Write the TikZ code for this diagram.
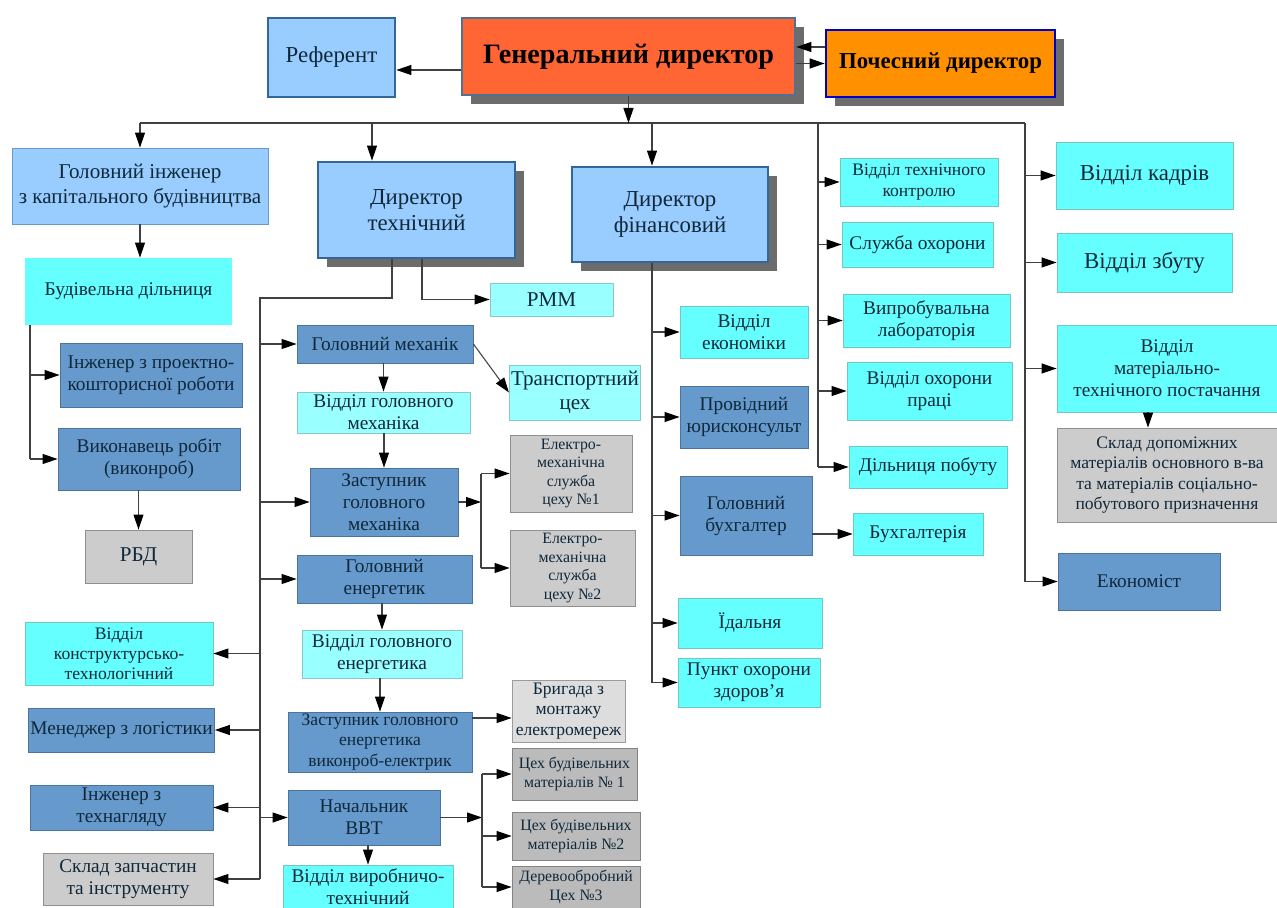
\documentclass[tikz,border=0pt]{standalone}
\usepackage{fontspec}
\setmainfont{Liberation Serif}
\usetikzlibrary{arrows.meta,shadows}

\definecolor{genor}{HTML}{FF6633}
\definecolor{pochor}{HTML}{FF9000}
\definecolor{lblue}{HTML}{99CCFF}
\definecolor{dblue}{HTML}{6699CC}
\definecolor{cyanb}{HTML}{66FFFF}
\definecolor{lcyan}{HTML}{99FFFF}
\definecolor{grayb}{HTML}{CCCCCC}
\definecolor{lgrayb}{HTML}{DDDDDD}
\definecolor{dgrayb}{HTML}{BBBBBB}
\definecolor{txt}{HTML}{10283A}
\definecolor{linec}{HTML}{404040}
\definecolor{edgeb}{HTML}{336699}

\tikzset{
	base/.style={rectangle, inner sep=1pt, align=center, text=txt, line width=0.5pt,
		font=\fontsize{11}{12.5}\selectfont},
	f9/.style={font=\fontsize{9}{10.5}\selectfont},
	f10/.style={font=\fontsize{10}{11.5}\selectfont},
	f12/.style={font=\fontsize{12}{14}\selectfont},
	f13/.style={font=\fontsize{13}{15}\selectfont},
	shade/.style={drop shadow={shadow xshift=0.18cm, shadow yshift=-0.18cm, fill=gray!85!black, opacity=1}},
	cyanbox/.style={base, fill=cyanb, draw=cyanb!55!gray},
	lcyanbox/.style={base, fill=lcyan, draw=lcyan!55!gray},
	dbox/.style={base, fill=dblue, draw=dblue!75!black},
	graybox/.style={base, fill=grayb, draw=grayb!70!black},
	lgraybox/.style={base, fill=lgrayb, draw=lgrayb!70!black},
	dgraybox/.style={base, fill=dgrayb, draw=dgrayb!70!black},
	lbox/.style={base, fill=lblue, draw=dblue},
	refbox/.style={base, f13, fill=lblue, draw=edgeb, line width=1.6pt},
	dirbox/.style={refbox, shade},
	genbox/.style={base, fill=genor, draw=edgeb!60!gray, line width=1.6pt, shade, text=black,
		font=\fontsize{16}{19}\selectfont\bfseries},
	pochbox/.style={base, fill=pochor, draw=blue!80!black, line width=1.6pt, shade, text=black,
		font=\fontsize{13}{15}\selectfont\bfseries},
	arr/.style={draw=linec, line width=0.6pt, -{Triangle[length=0.3cm,width=0.2cm,color=black]}},
	ln/.style={draw=linec, line width=0.6pt}
}

\begin{document}
\begin{tikzpicture}[x=0.02cm, y=-0.02cm]
	\useasboundingbox (0,0) rectangle (1277,908);

	% top
	\node[refbox, minimum width=2.54cm, minimum height=1.58cm] (ref) at (331.5,57.5) {Референт};
	\node[genbox, minimum width=6.66cm, minimum height=1.54cm] (gen) at (628.5,56.5) {Генеральний директор};
	\node[pochbox, minimum width=4.58cm, minimum height=1.34cm] (poch) at (940.5,63.5) {Почесний директор};

	% left column
	\node[lbox, f12, minimum width=5.12cm, minimum height=1.52cm] (gi) at (140,186) {Головний інженер\\з капітального будівництва};
	\node[cyanbox, draw=none, minimum width=4.14cm, minimum height=1.34cm] (bd) at (128.5,291.5) {Будівельна дільниця};
	\node[dbox, minimum width=3.64cm, minimum height=1.28cm] (ipk) at (151,375) {Інженер з проектно-\\кошторисної роботи};
	\node[dbox, minimum width=3.64cm, minimum height=1.24cm] (vr) at (149,459) {Виконавець робіт\\(виконроб)};
	\node[graybox, f12, minimum width=2.14cm, minimum height=1.06cm] (rbd) at (138.5,556.5) {РБД};
	\node[cyanbox, f10, minimum width=3.76cm, minimum height=1.26cm] (vkt) at (119,653.5) {Відділ\\конструктурсько-\\технологічний};
	\node[dbox, minimum width=3.66cm, minimum height=0.88cm] (ml) at (121.5,730) {Менеджер з логістики};
	\node[dbox, minimum width=3.66cm, minimum height=0.9cm] (it) at (121.5,807.5) {Інженер з\\технагляду};
	\node[graybox, minimum width=3.4cm, minimum height=1.04cm] (sz) at (128,879) {Склад запчастин\\та інструменту};

	% technical director
	\node[dirbox, minimum width=3.94cm, minimum height=1.92cm] (dt) at (416.5,210) {Директор\\технічний};
	\node[lcyanbox, f12, minimum width=2.46cm, minimum height=0.66cm] (rmm) at (551.5,299.5) {РММ};
	\node[dbox, minimum width=3.52cm, minimum height=0.76cm] (gm) at (385,344) {Головний механік};
	\node[lcyanbox, minimum width=3.46cm, minimum height=0.82cm] (vgm) at (383.5,412.5) {Відділ головного\\механіка};
	\node[lcyanbox, f12, minimum width=2.6cm, minimum height=1.1cm] (tc) at (575,392.5) {Транспортний\\цех};
	\node[dbox, minimum width=2.96cm, minimum height=1.36cm] (zgm) at (384,502) {Заступник\\головного\\механіка};
	\node[graybox, f9, minimum width=2.44cm, minimum height=1.54cm] (ems1) at (571,473.5) {Електро-\\механічна\\служба\\цеху №1};
	\node[graybox, f9, minimum width=2.5cm, minimum height=1.52cm] (ems2) at (572.5,568) {Електро-\\механічна\\служба\\цеху №2};
	\node[dbox, minimum width=3.5cm, minimum height=0.96cm] (ge) at (384.5,579) {Головний\\енергетик};
	\node[lcyanbox, minimum width=3.2cm, minimum height=0.96cm] (vge) at (382,654) {Відділ головного\\енергетика};
	\node[dbox, f10, minimum width=3.68cm, minimum height=1.2cm] (zge) at (380,742) {Заступник головного\\енергетика\\виконроб-електрик};
	\node[lgraybox, f10, minimum width=2.26cm, minimum height=1.24cm] (bme) at (568.5,711) {Бригада з\\монтажу\\електромереж};
	\node[dbox, minimum width=3.04cm, minimum height=1.1cm] (vvt) at (364,817.5) {Начальник\\ВВТ};
	\node[dgraybox, f9, minimum width=2.5cm, minimum height=1.04cm] (cbm1) at (574.5,774) {Цех будівельних\\матеріалів № 1};
	\node[dgraybox, f9, minimum width=2.56cm, minimum height=0.96cm] (cbm2) at (576,836) {Цех будівельних\\матеріалів №2};
	\node[dgraybox, f9, minimum width=2.56cm, minimum height=0.84cm] (dc3) at (576,887) {Деревообробний\\Цех №3};
	\node[cyanbox, minimum width=3.4cm, minimum height=0.86cm] (vvtv) at (368,886.5) {Відділ виробничо-\\технічний};

	% financial director
	\node[dirbox, minimum width=3.92cm, minimum height=1.9cm] (df) at (670,214.5) {Директор\\фінансовий};
	\node[cyanbox, minimum width=2.56cm, minimum height=1.04cm] (ve) at (744,332) {Відділ\\економіки};
	\node[dbox, minimum width=2.56cm, minimum height=1.24cm] (pju) at (744,417) {Провідний\\юрисконсульт};
	\node[dbox, minimum width=2.64cm, minimum height=1.58cm] (gb) at (746,515.5) {Головний\\бухгалтер};
	\node[cyanbox, minimum width=2.6cm, minimum height=0.84cm] (buh) at (918,534) {Бухгалтерія};
	\node[cyanbox, minimum width=2.88cm, minimum height=1cm] (id) at (750,623) {Їдальня};
	\node[cyanbox, minimum width=2.84cm, minimum height=0.98cm] (poz) at (749,682.5) {Пункт охорони\\здоров'я};

	% right columns
	\node[cyanbox, f10, minimum width=3.16cm, minimum height=0.96cm] (vtk) at (919,182) {Відділ технічного\\контролю};
	\node[cyanbox, minimum width=3.02cm, minimum height=0.9cm] (so) at (917.5,244.5) {Служба охорони};
	\node[cyanbox, minimum width=3.34cm, minimum height=1.06cm] (vl) at (926.5,320.5) {Випробувальна\\лабораторія};
	\node[cyanbox, minimum width=3.3cm, minimum height=1.16cm] (vop) at (929.5,391) {Відділ охорони\\праці};
	\node[cyanbox, minimum width=3.16cm, minimum height=0.84cm] (dp) at (928,467) {Дільниця побуту};
	\node[cyanbox, f13, minimum width=3.54cm, minimum height=1.34cm] (vk) at (1144.5,175.5) {Відділ кадрів};
	\node[cyanbox, f13, minimum width=3.5cm, minimum height=1.18cm] (vz) at (1144.5,262.5) {Відділ збуту};
	\node[cyanbox, minimum width=4.4cm, minimum height=1.74cm] (mtp) at (1167,368.5) {Відділ\\матеріально-\\технічного постачання};
	\node[graybox, f10, minimum width=4.4cm, minimum height=1.88cm] (sdm) at (1167,475) {Склад допоміжних\\матеріалів основного в-ва\\та матеріалів соціально-\\побутового призначення};
	\node[dbox, minimum width=3.24cm, minimum height=1.14cm] (ek) at (1139,581.5) {Економіст};

	% main bus
	\coordinate (b0) at (140,123);
	\coordinate (b1) at (372,123);
	\coordinate (b2) at (652,123);
	\coordinate (b3) at (818,123);
	\coordinate (b4) at (1025,123);
	\draw[ln] (b0) -- (b4);
	\draw[arr] (gen.south) -- (gen.south |- b0);
	\draw[arr] (b0) -- (gi.north);
	\draw[arr] (b1) -- (b1 |- dt.north);
	\draw[arr] (b2) -- (b2 |- df.north);
	\draw[ln] (b3) -- (b3 |- dp);
	\draw[ln] (b4) -- (b4 |- ek);

	\coordinate (g1) at ([yshift=-0.27cm]gen.west);
	\draw[arr] (g1) -- (g1 -| ref.east);
	\coordinate (p1) at ([yshift=0.33cm]poch.west);
	\draw[arr] (p1) -- (p1 -| gen.east);
	\draw[arr] (poch.west -| gen.east) -- (poch.west);

	% chief engineer
	\coordinate (l1) at (30,459);
	\draw[arr] (gi.south) -- (gi.south |- bd.north);
	\draw[ln] (l1 |- bd.south) -- (l1 |- vr);
	\draw[arr] (l1 |- ipk) -- (ipk.west);
	\draw[arr] (l1 |- vr) -- (vr.west);
	\draw[arr] (rbd.north |- vr.south) -- (rbd.north);

	% technical director
	\coordinate (t1) at (392,298);
	\coordinate (t2) at (422,300);
	\coordinate (lb) at (260,879);
	\draw[ln] (t1 |- dt.south) -- (t1) -| (lb |- sz);
	\draw[arr] (t2 |- dt.south) |- (rmm.west);
	\draw[arr] (lb |- gm) -- (gm.west);
	\draw[arr] (lb |- zgm) -- (zgm.west);
	\draw[arr] (lb |- ge) -- (ge.west);
	\draw[arr] (lb |- vvt) -- (vvt.west);
	\draw[arr] (lb |- vkt) -- (vkt.east);
	\draw[arr] (lb |- ml) -- (ml.east);
	\draw[arr] (lb |- it) -- (it.east);
	\draw[arr] (lb |- sz) -- (sz.east);

	\draw[arr] (vgm.north |- gm.south) -- (vgm.north);
	\draw[arr] (zgm.north |- vgm.south) -- (zgm.north);
	\draw[arr] (gm.east) -- (tc.west);
	\coordinate (f1) at (481,502);
	\draw[arr] (zgm.east) -- (f1);
	\draw[ln] (f1 |- ems1) -- (f1 |- ems2);
	\draw[arr] (f1 |- ems1) -- (ems1.west);
	\draw[arr] (f1 |- ems2) -- (ems2.west);

	\draw[arr] (vge.north |- ge.south) -- (vge.north);
	\draw[arr] (zge.north |- vge.south) -- (zge.north);
	\coordinate (z1) at ([yshift=-0.14cm]bme.west);
	\draw[arr] (z1 -| zge.east) -- (z1);
	\coordinate (f2) at (482,815);
	\draw[arr] (vvt.east) -- (vvt.east -| f2);
	\draw[ln] (f2 |- cbm1) -- (f2 |- dc3);
	\draw[arr] (f2 |- cbm1) -- (cbm1.west);
	\draw[arr] (f2 |- cbm2) -- (cbm2.west);
	\draw[arr] (f2 |- dc3) -- (dc3.west);
	\draw[arr] (vvtv.north |- vvt.south) -- (vvtv.north);

	% financial director
	\coordinate (fb) at (652,683);
	\draw[ln] (fb |- df.south) -- (fb |- poz);
	\draw[arr] (fb |- ve) -- (ve.west);
	\draw[arr] (fb |- pju) -- (pju.west);
	\draw[arr] (fb |- gb) -- (gb.west);
	\draw[arr] (fb |- id) -- (id.west);
	\draw[arr] (fb |- poz) -- (poz.west);
	\draw[arr] (gb.east |- buh) -- (buh.west);

	% right buses
	\draw[arr] (b3 |- vtk) -- (vtk.west);
	\draw[arr] (b3 |- so) -- (so.west);
	\draw[arr] (b3 |- vl) -- (vl.west);
	\draw[arr] (b3 |- vop) -- (vop.west);
	\draw[arr] (b3 |- dp) -- (dp.west);
	\draw[arr] (b4 |- vk) -- (vk.west);
	\draw[arr] (b4 |- vz) -- (vz.west);
	\draw[arr] (b4 |- mtp) -- (mtp.west);
	\draw[arr] (b4 |- ek) -- (ek.west);
	\draw[arr] ([xshift=-0.38cm]mtp.south) -- ([xshift=-0.38cm]sdm.north);
\end{tikzpicture}
\end{document}
